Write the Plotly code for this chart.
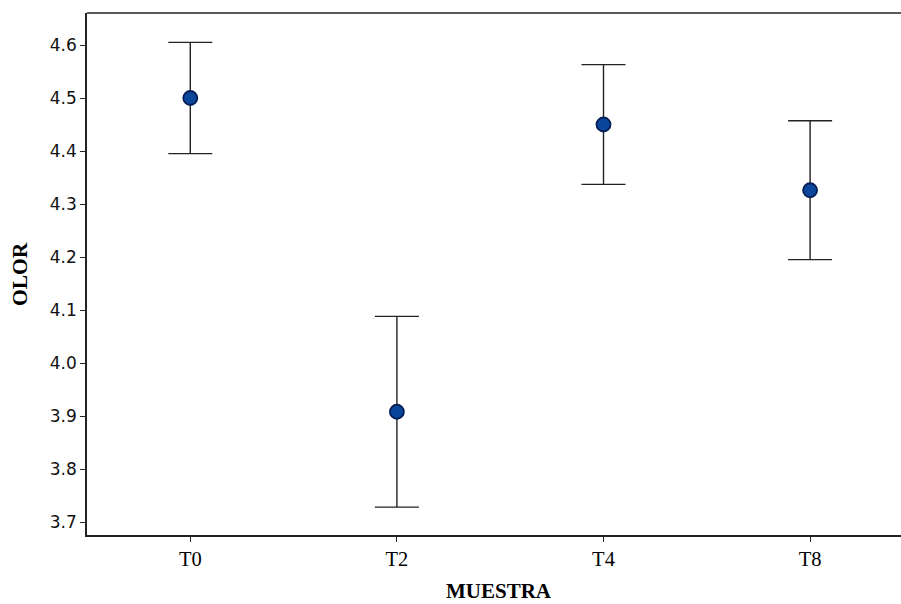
import plotly.graph_objects as go

categories = ["T0", "T2", "T4", "T8"]
means = [4.500, 3.908, 4.450, 4.326]
errors = [0.105, 0.180, 0.113, 0.131]
y_ticks = [3.7, 3.8, 3.9, 4.0, 4.1, 4.2, 4.3, 4.4, 4.5, 4.6]
y_tick_text = ["3.7", "3.8", "3.9", "4.0", "4.1", "4.2", "4.3", "4.4", "4.5", "4.6"]

fig = go.Figure()
fig.add_trace(go.Scatter(
    x=categories, y=means, mode="markers",
    marker=dict(size=14, color="#0a469c", line=dict(color="#041f55", width=1.8)),
    error_y=dict(type="data", array=errors, visible=True, color="#222222",
                 thickness=1.4, width=22),
    showlegend=False, hoverinfo="skip",
))

axis_col = "#222222"
fig.update_layout(
    width=901, height=604,
    margin=dict(l=87, r=0, t=13, b=69),
    plot_bgcolor="white", paper_bgcolor="white",
    xaxis=dict(
        type="category", range=[-0.5, 3.44],
        showline=True, linecolor=axis_col, linewidth=1.6, mirror=False,
        ticks="outside", ticklen=5, tickcolor=axis_col, tickwidth=1.3,
        showgrid=False, zeroline=False,
        tickfont=dict(family="Liberation Serif", size=20.5, color="#000000"),
    ),
    yaxis=dict(
        range=[3.6755, 4.6604],
        tickvals=y_ticks, ticktext=y_tick_text,
        showline=True, linecolor=axis_col, linewidth=1.6, mirror=False,
        ticks="outside", ticklen=5, tickcolor=axis_col, tickwidth=1.3,
        showgrid=False, zeroline=False,
        tickfont=dict(family="DejaVu Sans", size=17, color="#111111"),
    ),
    shapes=[dict(type="line", xref="paper", yref="paper", x0=0, x1=1, y0=1, y1=1,
                 line=dict(color=axis_col, width=1.6))],
    annotations=[
        dict(text="<b>MUESTRA</b>", xref="paper", yref="paper",
             x=(499 - 87) / (901 - 87), y=-(591 - 535) / (535 - 13),
             xanchor="center", yanchor="middle", showarrow=False,
             font=dict(family="Liberation Serif", size=21, color="#000000")),
        dict(text="<b>OLOR</b>", xref="paper", yref="paper",
             x=-(87 - 20) / (901 - 87), y=0.5, textangle=-90,
             xanchor="center", yanchor="middle", showarrow=False,
             font=dict(family="Liberation Serif", size=21.5, color="#000000")),
    ],
)

fig.write_html("out.html", config={"displayModeBar": False},
               post_script="document.body.style.margin='0';document.body.style.overflow='hidden';")
